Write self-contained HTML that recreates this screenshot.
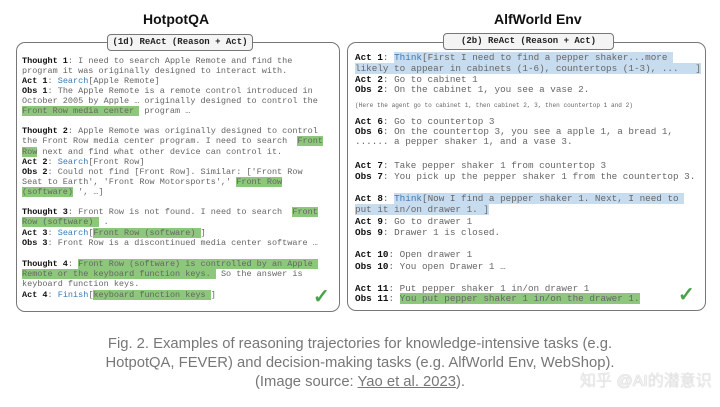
<!DOCTYPE html>
<html><head><meta charset="utf-8"><style>
body{margin:0;width:720px;height:407px;background:#fff;position:relative;overflow:hidden;font-family:"Liberation Sans",sans-serif}
.t{position:absolute;font-weight:bold;font-size:14px;color:#111}
.box{position:absolute;border:1.5px solid #777;border-radius:9px;background:#fff}
.lab{position:absolute;border:1.5px solid #777;border-radius:4px;background:#f4f4f4;font-family:"Liberation Mono",monospace;font-weight:bold;font-size:9px;color:#222;text-align:center;line-height:15px}
.l{position:absolute;white-space:pre;font-family:"Liberation Mono",monospace;color:#666;line-height:10px}
.L .l{font-size:8.5px;left:22px}
.R .l{font-size:9.3px;left:355px;line-height:11px}
b{color:#111}
.g{background:#8dc77b}
.bl{background:#c8dcef}
.k{color:#3a78b5}
.cap{position:absolute;left:0;width:720px;text-align:center;font-size:14.8px;color:#777;line-height:19px}
.chk{position:absolute;color:#4aa34a;font-size:20px;font-weight:bold}
</style></head><body>
<div class="t" style="left:143px;top:11px">HotpotQA</div>
<div class="t" style="left:494px;top:11px">AlfWorld Env</div>
<div class="box" style="left:16px;top:42px;width:322px;height:268px"></div>
<div class="box" style="left:347px;top:42px;width:357px;height:267px"></div>
<div class="lab" style="left:107px;top:34px;width:144px;height:15px">(1d) ReAct (Reason + Act)</div>
<div class="lab" style="left:443px;top:33px;width:169px;height:15px">(2b) ReAct (Reason + Act)</div>
<div class="L">
<div class="l" style="top:56px"><b>Thought 1</b>: I need to search Apple Remote and find the</div>
<div class="l" style="top:66px">program it was originally designed to interact with.</div>
<div class="l" style="top:76px"><b>Act 1</b>: <span class="k">Search</span>[Apple Remote]</div>
<div class="l" style="top:86px"><b>Obs 1</b>: The Apple Remote is a remote control introduced in</div>
<div class="l" style="top:96px">October 2005 by Apple … originally designed to control the</div>
<div class="l" style="top:106px"><span class="g">Front Row media center </span> program …</div>
<div class="l" style="top:126px"><b>Thought 2</b>: Apple Remote was originally designed to control</div>
<div class="l" style="top:136px">the Front Row media center program. I need to search  <span class="g">Front</span></div>
<div class="l" style="top:147px"><span class="g">Row</span> next and find what other device can control it.</div>
<div class="l" style="top:157px"><b>Act 2</b>: <span class="k">Search</span>[Front Row]</div>
<div class="l" style="top:167px"><b>Obs 2</b>: Could not find [Front Row]. Similar: ['Front Row</div>
<div class="l" style="top:177px">Seat to Earth', 'Front Row Motorsports',' <span class="g">Front Row</span></div>
<div class="l" style="top:187px"><span class="g">(software)</span> ', …]</div>
<div class="l" style="top:207px"><b>Thought 3</b>: Front Row is not found. I need to search  <span class="g">Front</span></div>
<div class="l" style="top:217px"><span class="g">Row (software) </span> .</div>
<div class="l" style="top:228px"><b>Act 3</b>: <span class="k">Search</span>[<span class="g">Front Row (software) </span>]</div>
<div class="l" style="top:238px"><b>Obs 3</b>: Front Row is a discontinued media center software …</div>
<div class="l" style="top:259px"><b>Thought 4</b>: <span class="g">Front Row (software) is controlled by an Apple </span></div>
<div class="l" style="top:269px"><span class="g">Remote or the keyboard function keys. </span> So the answer is</div>
<div class="l" style="top:279px">keyboard function keys.</div>
<div class="l" style="top:290px"><b>Act 4</b>: <span class="k">Finish</span>[<span class="g">keyboard function keys </span>]</div>
</div>
<div class="R">
<div class="l" style="top:52px"><b>Act 1</b>: <span class="bl"><span class="k">Think</span>[First I need to find a pepper shaker...more </span></div>
<div class="l" style="top:63px"><span class="bl">likely to appear in cabinets (1-6), countertops (1-3), ...   ]</span></div>
<div class="l" style="top:74px"><b>Act 2</b>: Go to cabinet 1</div>
<div class="l" style="top:84px"><b>Obs 2</b>: On the cabinet 1, you see a vase 2.</div>
<div class="l" style="top:100px;font-size:6.1px">(Here the agent go to cabinet 1, then cabinet 2, 3, then countertop 1 and 2)</div>
<div class="l" style="top:116px"><b>Act 6</b>: Go to countertop 3</div>
<div class="l" style="top:126px"><b>Obs 6</b>: On the countertop 3, you see a apple 1, a bread 1,</div>
<div class="l" style="top:136px">...... a pepper shaker 1, and a vase 3.</div>
<div class="l" style="top:160px"><b>Act 7</b>: Take pepper shaker 1 from countertop 3</div>
<div class="l" style="top:171px"><b>Obs 7</b>: You pick up the pepper shaker 1 from the countertop 3.</div>
<div class="l" style="top:193px"><b>Act 8</b>: <span class="bl"><span class="k">Think</span>[Now I find a pepper shaker 1. Next, I need to </span></div>
<div class="l" style="top:204px"><span class="bl">put it in/on drawer 1. ]</span></div>
<div class="l" style="top:216px"><b>Act 9</b>: Go to drawer 1</div>
<div class="l" style="top:227px"><b>Obs 9</b>: Drawer 1 is closed.</div>
<div class="l" style="top:249px"><b>Act 10</b>: Open drawer 1</div>
<div class="l" style="top:261px"><b>Obs 10</b>: You open Drawer 1 …</div>
<div class="l" style="top:283px"><b>Act 11</b>: Put pepper shaker 1 in/on drawer 1</div>
<div class="l" style="top:293px"><b>Obs 11</b>: <span class="g">You put pepper shaker 1 in/on the drawer 1.</span></div>
</div>
<div class="chk" style="left:313px;top:284px">✓</div>
<div class="chk" style="left:678px;top:282px">✓</div>
<div class="cap" style="top:335px">Fig. 2. Examples of reasoning trajectories for knowledge-intensive tasks (e.g.</div>
<div class="cap" style="top:354px">HotpotQA, FEVER) and decision-making tasks (e.g. AlfWorld Env, WebShop).</div>
<div class="cap" style="top:373px">(Image source: <span style="text-decoration:underline">Yao et al. 2023</span>).</div>
<div style="position:absolute;left:580px;top:367px;white-space:nowrap;font-family:'Liberation Sans','Noto Sans CJK SC',sans-serif;font-weight:300;font-size:16px;color:#f2f2f2;text-shadow:0 0 1px #999">知乎 @AI的潜意识</div>
</body></html>
